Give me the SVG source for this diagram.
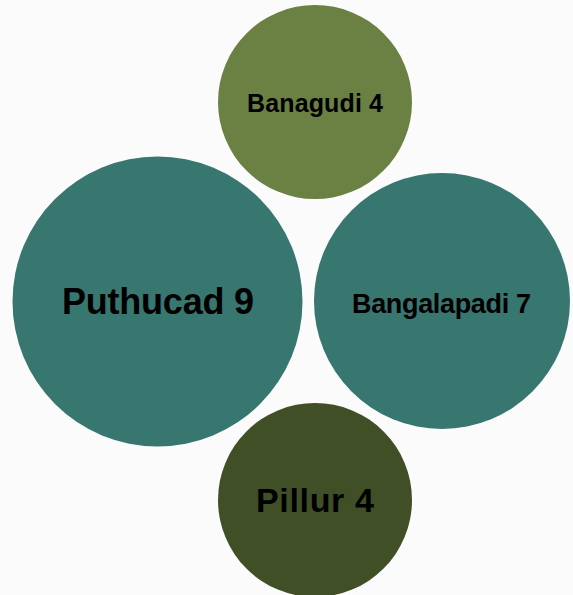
<svg xmlns="http://www.w3.org/2000/svg" width="573" height="595" viewBox="0 0 573 595">
<style>
.lbl{font-family:"Liberation Sans",Arial,sans-serif;font-weight:bold;fill:#000;text-anchor:middle}
</style>
<rect width="573" height="595" fill="#fbfbfb"/>
<g id="connectors"></g>
<g id="banagudi">
<circle cx="315" cy="102" r="97" fill="#6b8043"/>
<text class="lbl" x="315" y="112" font-size="25" textLength="136">Banagudi 4</text>
</g>
<g id="puthucad">
<circle cx="157.5" cy="301.5" r="145" fill="#387670"/>
<text class="lbl" x="158" y="314" font-size="36" textLength="192">Puthucad 9</text>
</g>
<g id="bangalapadi">
<circle cx="442" cy="301" r="128" fill="#387670"/>
<text class="lbl" x="441.5" y="313" font-size="27" textLength="179">Bangalapadi 7</text>
</g>
<g id="pillur">
<circle cx="315" cy="500" r="97" fill="#404f26"/>
<text class="lbl" x="315" y="512" font-size="34" textLength="118">Pillur 4</text>
</g>
</svg>
